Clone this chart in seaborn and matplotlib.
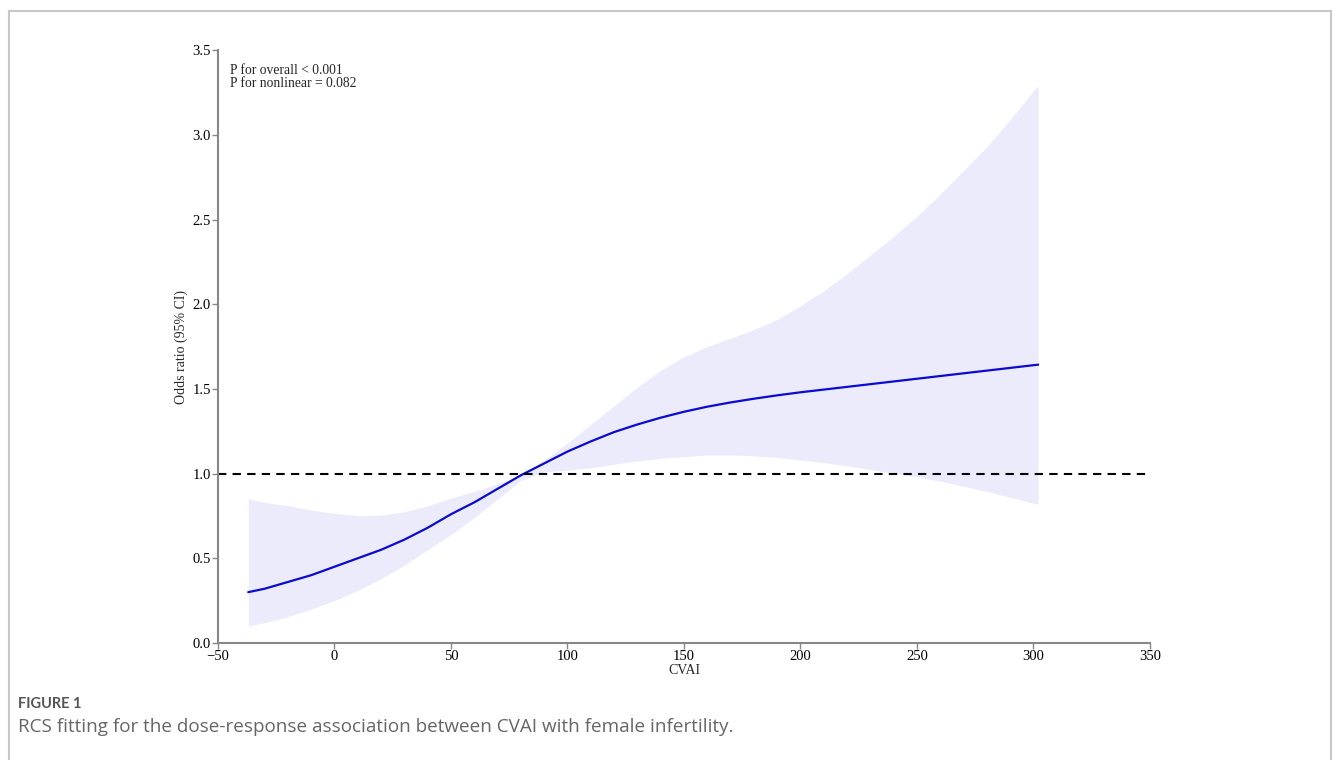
import numpy as np
import pandas as pd
import seaborn as sns
import matplotlib.pyplot as plt
from matplotlib.patches import Rectangle

# values
cvai = [-37, -30, -20, -10, 0, 10, 20, 30, 40, 50, 60, 70, 80, 90, 100, 110, 120, 130,
        140, 150, 160, 170, 180, 190, 200, 210, 220, 230, 240, 250, 260, 270, 280, 290, 300, 302]
odds = [0.30, 0.32, 0.36, 0.40, 0.45, 0.50, 0.55, 0.61, 0.68, 0.76, 0.83, 0.91, 0.99, 1.06,
        1.13, 1.19, 1.245, 1.29, 1.33, 1.365, 1.395, 1.42, 1.442, 1.462, 1.48, 1.496, 1.512,
        1.528, 1.544, 1.56, 1.576, 1.592, 1.608, 1.624, 1.64, 1.643]
upper = [0.85, 0.83, 0.81, 0.785, 0.765, 0.752, 0.755, 0.775, 0.81, 0.855, 0.895, 0.94,
         0.99, 1.08, 1.18, 1.29, 1.40, 1.51, 1.61, 1.69, 1.75, 1.80, 1.85, 1.91, 1.99, 2.08,
         2.18, 2.29, 2.40, 2.52, 2.65, 2.79, 2.93, 3.09, 3.26, 3.29]
lower = [0.10, 0.12, 0.155, 0.20, 0.25, 0.31, 0.38, 0.46, 0.55, 0.64, 0.74, 0.85, 0.96,
         1.01, 1.02, 1.035, 1.055, 1.075, 1.09, 1.10, 1.11, 1.11, 1.105, 1.095, 1.08, 1.065,
         1.045, 1.025, 1.00, 0.98, 0.955, 0.925, 0.895, 0.86, 0.825, 0.82]

x_ticks = [-50, 0, 50, 100, 150, 200, 250, 300, 350]
y_ticks = [0.0, 0.5, 1.0, 1.5, 2.0, 2.5, 3.0, 3.5]

df = pd.DataFrame({'CVAI': cvai, 'OR': odds, 'upper': upper, 'lower': lower})

sns.set_style('ticks')
plt.rcParams['font.family'] = ['Liberation Serif', 'DejaVu Serif']

fig = plt.figure(figsize=(13.33, 7.6), dpi=100)
ax = fig.add_axes([0.1635, 0.154, 0.6992, 0.780])

# confidence band + fitted curve
ax.fill_between(df['CVAI'], df['lower'], df['upper'], color='#ebebfc', linewidth=0)
sns.lineplot(data=df, x='CVAI', y='OR', ax=ax, color='#0a0ad2', linewidth=1.6)
ax.axhline(1.0, color='black', linestyle=(0, (4, 3)), linewidth=1.5)

ax.set_xlim(-50, 350)
ax.set_ylim(0, 3.5)
ax.set_xticks(x_ticks)
ax.set_yticks(y_ticks)
ax.set_xticklabels([str(t).replace('-', '\u2212') for t in x_ticks], fontsize=10.5)
ax.set_yticklabels([f'{t:.1f}' for t in y_ticks], fontsize=10.5)
ax.set_xlabel('CVAI', fontsize=10, labelpad=1)
ax.set_ylabel('Odds ratio (95% CI)', fontsize=10, labelpad=3)

sns.despine(ax=ax)
for side in ['left', 'bottom']:
    ax.spines[side].set_color('#888888')
    ax.spines[side].set_linewidth(1.5)
ax.tick_params(colors='#888888', labelcolor='black', length=4, width=1, pad=1)

ax.text(-45, 3.42, 'P for overall < 0.001\nP for nonlinear = 0.082',
        fontsize=9.8, va='top', ha='left', linespacing=1.0)

# journal-style frame and caption
fig.patches.append(Rectangle((9 / 1333, -0.05), 1322 / 1333, 1.05 - 11 / 760,
                             transform=fig.transFigure, fill=False,
                             edgecolor='#c8c8c8', linewidth=1.5))
fig.text(18 / 1333, 1 - 704 / 760, 'FIGURE 1', fontsize=10.5, color='#555555',
         fontweight='bold', family=['Lato', 'DejaVu Sans'], va='center')
fig.text(18 / 1333, 1 - 727 / 760,
         'RCS fitting for the dose-response association between CVAI with female infertility.',
         fontsize=13.6, color='#666666', family=['Open Sans', 'DejaVu Sans'], va='center')

fig.savefig('out.png', dpi=100)
